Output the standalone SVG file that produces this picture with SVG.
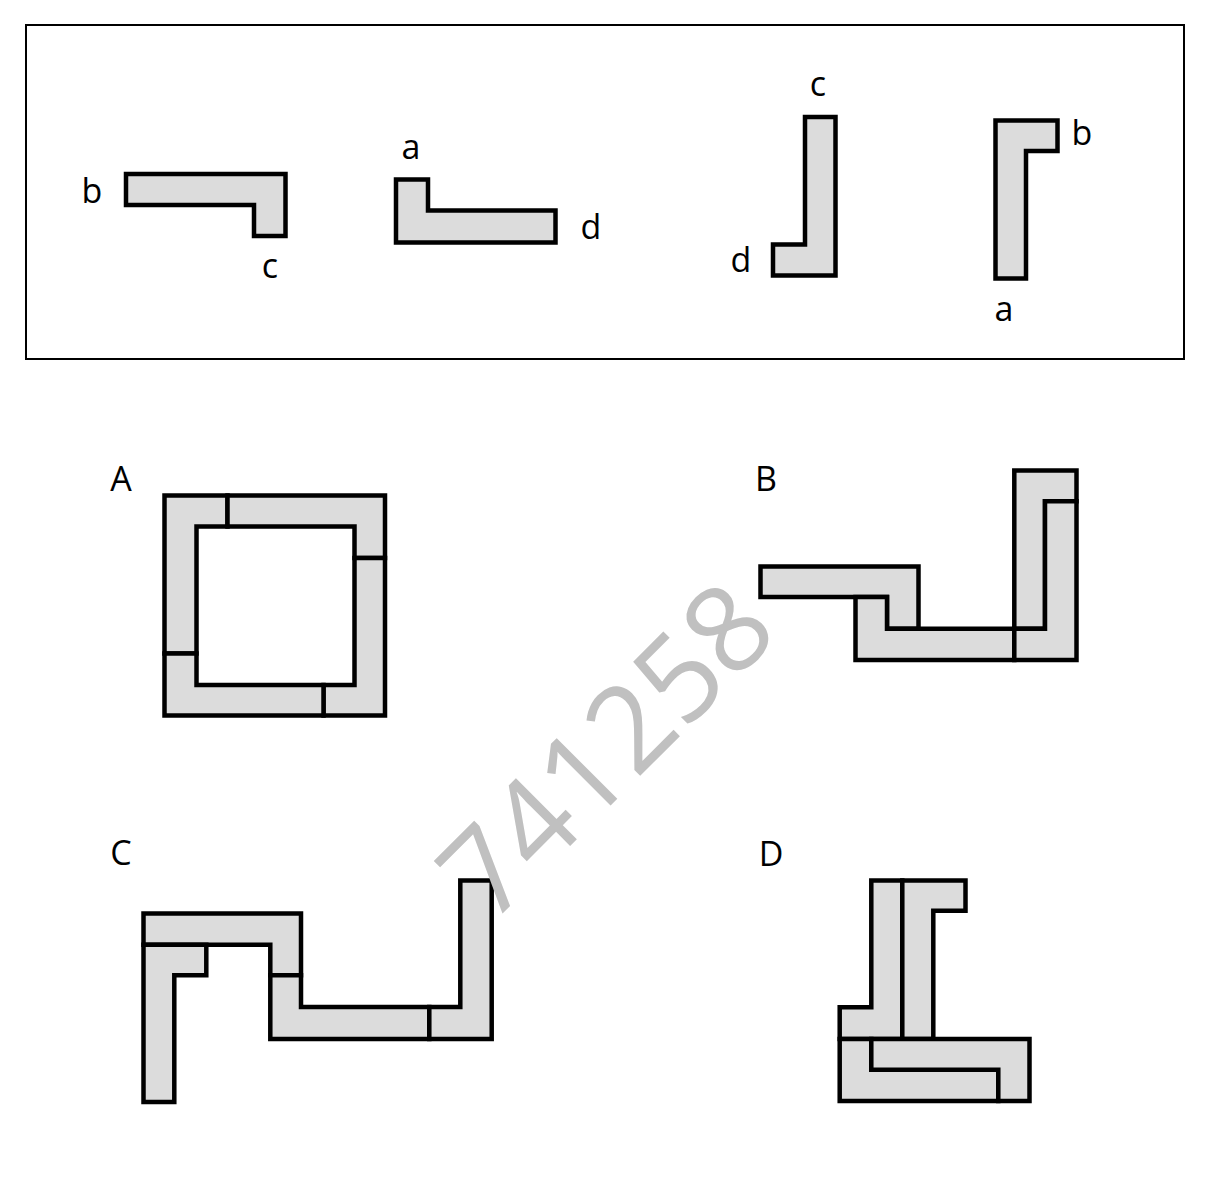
<svg xmlns="http://www.w3.org/2000/svg" width="1212" height="1180" viewBox="0 0 1212 1180">
<style>
.p{fill:#dcdcdc;stroke:#000;stroke-width:4.5;stroke-linejoin:miter}
.t{font-family:"Open Sans","Liberation Sans",sans-serif;font-size:34px;fill:#000;text-anchor:middle}
.wm{font-family:"Open Sans","Liberation Sans",sans-serif;font-size:120px;fill:#c0c0c0;text-anchor:middle}
</style>
<rect width="1212" height="1180" fill="#fff"/>
<g id="frame"><rect x="26" y="25" width="1158" height="334" fill="none" stroke="#000" stroke-width="2"/></g>
<g id="piece-bc">
<polygon class="p" points="126,174 285.5,174 285.5,236 254,236 254,205 126,205"/>
<text class="t" x="92" y="203">b</text>
<text class="t" x="270" y="278">c</text>
</g>
<g id="piece-ad">
<polygon class="p" points="396,179.5 428,179.5 428,210.5 555.5,210.5 555.5,242.5 396,242.5"/>
<text class="t" x="411" y="159">a</text>
<text class="t" x="591" y="239">d</text>
</g>
<g id="piece-cd">
<polygon class="p" points="805,117 835.5,117 835.5,275.5 773,275.5 773,244.5 805,244.5"/>
<text class="t" x="818" y="96">c</text>
<text class="t" x="741" y="272">d</text>
</g>
<g id="piece-ab">
<polygon class="p" points="995.5,120.5 1057.5,120.5 1057.5,151 1026,151 1026,278.5 995.5,278.5"/>
<text class="t" x="1082" y="145">b</text>
<text class="t" x="1004" y="321">a</text>
</g>
<g id="optionA">
<text class="t" x="121" y="491">A</text>
<polygon class="p" points="164.5,495.5 227.5,495.5 227.5,526.5 196.5,526.5 196.5,653.5 164.5,653.5"/>
<polygon class="p" points="227.5,495.5 385,495.5 385,558 354.5,558 354.5,526.5 227.5,526.5"/>
<polygon class="p" points="354.5,558 385,558 385,715.5 323.5,715.5 323.5,685 354.5,685"/>
<polygon class="p" points="164.5,653.5 196.5,653.5 196.5,685 323.5,685 323.5,715.5 164.5,715.5"/>
</g>
<g id="optionB">
<text class="t" x="766" y="491">B</text>
<polygon class="p" points="760.5,566.5 918.5,566.5 918.5,628.7 887,628.7 887,597 760.5,597"/>
<polygon class="p" points="855.5,597 887,597 887,628.7 1014.3,628.7 1014.3,660 855.5,660"/>
<polygon class="p" points="1014.3,470.5 1076.5,470.5 1076.5,501.3 1045,501.3 1045,628.7 1014.3,628.7"/>
<polygon class="p" points="1045,501.3 1076.5,501.3 1076.5,660 1014.3,660 1014.3,628.7 1045,628.7"/>
</g>
<g id="optionC">
<text class="t" x="121" y="865">C</text>
<polygon class="p" points="143.5,913.5 301,913.5 301,975.3 270.3,975.3 270.3,944.7 143.5,944.7"/>
<polygon class="p" points="143.5,944.7 206.3,944.7 206.3,975.3 174.3,975.3 174.3,1102 143.5,1102"/>
<polygon class="p" points="270.3,975.3 301,975.3 301,1007 429.3,1007 429.3,1039 270.3,1039"/>
<polygon class="p" points="460.3,880.5 491.7,880.5 491.7,1039 429.3,1039 429.3,1007 460.3,1007"/>
</g>
<g id="optionD">
<text class="t" x="771" y="866">D</text>
<polygon class="p" points="871.3,880.5 902.3,880.5 902.3,1039 839.7,1039 839.7,1007.3 871.3,1007.3"/>
<polygon class="p" points="902.3,880.5 965.5,880.5 965.5,910.7 933.3,910.7 933.3,1039 902.3,1039"/>
<polygon class="p" points="839.7,1039 871.3,1039 871.3,1069.7 998.3,1069.7 998.3,1101 839.7,1101"/>
<polygon class="p" points="871.3,1039 1029.5,1039 1029.5,1101 998.3,1101 998.3,1069.7 871.3,1069.7"/>
</g>
<g id="connectors"/>
<text class="wm" x="636" y="780" transform="rotate(-45 636 780)">741258</text>
</svg>
